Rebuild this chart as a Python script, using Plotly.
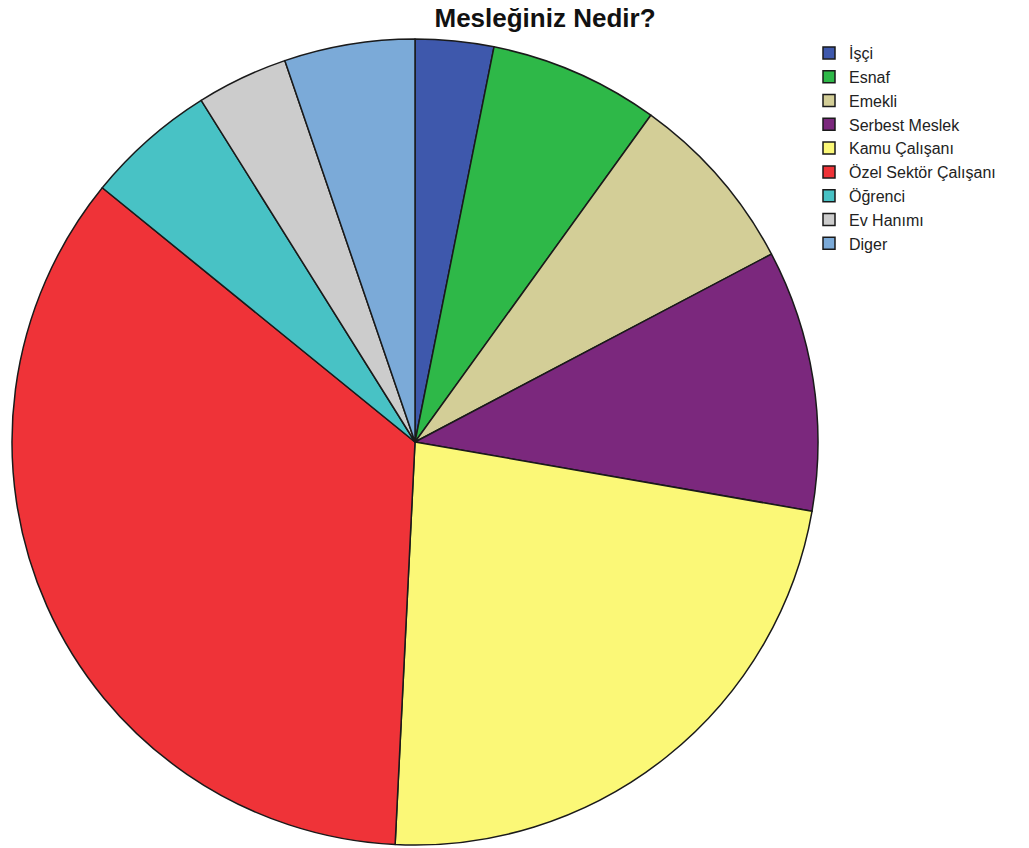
import plotly.graph_objects as go

# Occupation survey: counts per category
categories = ["İşçi", "Esnaf", "Emekli", "Serbest Meslek", "Kamu Çalışanı",
              "Özel Sektör Çalışanı", "Öğrenci", "Ev Hanımı", "Diger"]
counts = [6, 13, 14, 20, 44, 67, 10, 7, 10]
colors = ["#3E58AC", "#2EB848", "#D3CE97", "#7B287D", "#FBF877",
          "#EF3338", "#48C2C5", "#CCCCCC", "#7BAAD8"]

W, H = 1029, 848
cx, cy, r = 415, 442, 403

fig = go.Figure(go.Pie(
    labels=categories,
    values=counts,
    sort=False,
    direction="clockwise",
    rotation=0,
    textinfo="none",
    marker=dict(colors=colors, line=dict(color="#1a1a1a", width=1.5)),
    domain=dict(x=[(cx - r) / W, (cx + r) / W],
                y=[1 - (cy + r) / H, 1 - (cy - r) / H]),
))

fig.update_layout(
    width=W, height=H,
    margin=dict(l=0, r=0, t=0, b=0),
    paper_bgcolor="white",
    font=dict(family="Liberation Sans, Arial, sans-serif", color="#111111"),
    title=dict(text="<b>Mesleğiniz Nedir?</b>", x=545 / W, xanchor="center",
               y=1 - 18 / H, yanchor="middle",
               font=dict(size=26, color="#111111")),
    legend=dict(x=809 / W, xanchor="left", y=1 - 36 / H, yanchor="top",
                font=dict(size=16, color="#222222"),
                bgcolor="rgba(0,0,0,0)", traceorder="normal"),
)

fig.write_html("out.html")
